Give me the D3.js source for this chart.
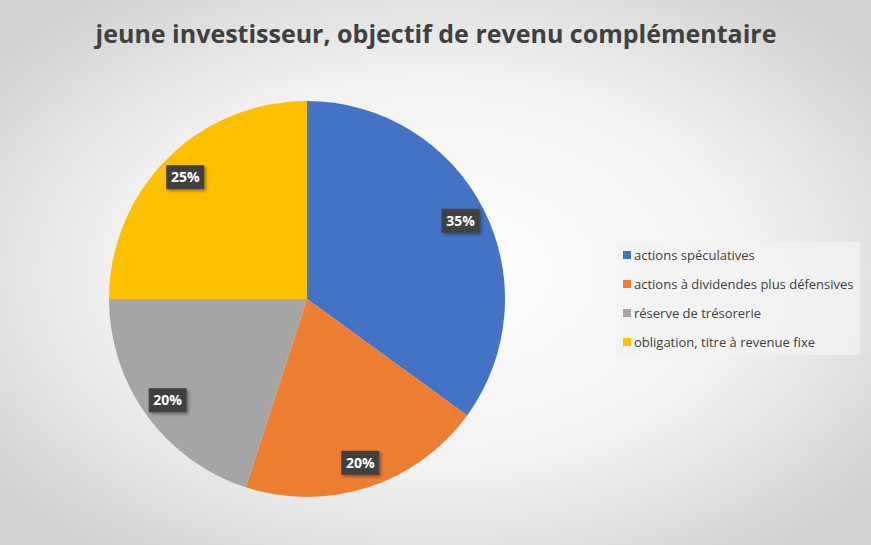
<!DOCTYPE html>
<html><head><meta charset="utf-8">
<script src="https://cdn.jsdelivr.net/npm/d3@7"></script>
<style>body{margin:0;}svg{display:block;}</style>
</head><body>
<script>
const categories = ["actions spéculatives","actions à dividendes plus défensives","réserve de trésorerie","obligation, titre à revenue fixe"];
const values = [35,20,20,25];
const labels = ["35%","20%","20%","25%"];
const colors = ["#4472C4","#ED7D31","#A5A5A5","#FFC000"];
const title = "jeune investisseur, objectif de revenu complémentaire";

const W=871,H=545;
const svg=d3.select("body").append("svg").attr("width",W).attr("height",H);
const defs=svg.append("defs");
const g=defs.append("radialGradient").attr("id","bg").attr("cx","50%").attr("cy","50%").attr("r","65%");
g.append("stop").attr("offset","0%").attr("stop-color","#ffffff");
g.append("stop").attr("offset","55%").attr("stop-color","#f2f2f2");
g.append("stop").attr("offset","100%").attr("stop-color","#d0d0d0");
const f=defs.append("filter").attr("id","sh").attr("x","-20%").attr("y","-20%").attr("width","150%").attr("height","160%");
f.append("feDropShadow").attr("dx",2).attr("dy",2).attr("stdDeviation",1.5).attr("flood-opacity",0.35);
svg.append("rect").attr("width",W).attr("height",H).attr("fill","url(#bg)");

svg.append("text").attr("x",436).attr("y",43).attr("text-anchor","middle")
 .attr("font-family","Open Sans, sans-serif").attr("font-weight","bold").attr("font-size",25).attr("fill","#404040").text(title);

const cx=307,cy=299,R=198;
const pie=d3.pie().sort(null)(values);
const arc=d3.arc().innerRadius(0).outerRadius(R);
const gp=svg.append("g").attr("transform",`translate(${cx},${cy})`);
gp.selectAll("path").data(pie).join("path").attr("d",arc).attr("fill",(d,i)=>colors[i]);
const la=d3.arc().innerRadius(R*0.87).outerRadius(R*0.87);
pie.forEach((d,i)=>{
  const [x,y]=la.centroid(d);
  const lg=gp.append("g").attr("transform",`translate(${x},${y})`);
  lg.append("rect").attr("x",-19).attr("y",-12).attr("width",38).attr("height",24).attr("fill","#404040").attr("filter","url(#sh)");
  lg.append("text").attr("text-anchor","middle").attr("dy","0.36em").attr("font-family","Open Sans, sans-serif")
    .attr("font-weight","bold").attr("font-size",14).attr("fill","#fff").text(labels[i]);
});

svg.append("rect").attr("x",616).attr("y",242).attr("width",244).attr("height",113).attr("fill","#f2f2f2").attr("opacity",0.8);
const y=d3.scalePoint().domain(categories).range([255,342]);
categories.forEach((c,i)=>{
  svg.append("rect").attr("x",623).attr("y",y(c)-4).attr("width",8).attr("height",8).attr("fill",colors[i]);
  svg.append("text").attr("x",634).attr("y",y(c)).attr("dy","0.35em").attr("font-family","Open Sans, sans-serif")
   .attr("font-size",13).attr("fill","#404040").text(c);
});
</script>
</body></html>
